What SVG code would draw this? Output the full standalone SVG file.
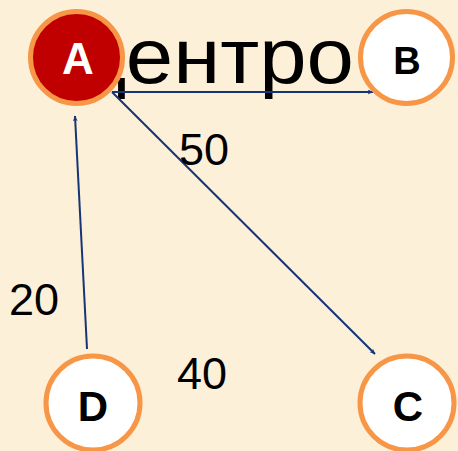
<svg xmlns="http://www.w3.org/2000/svg" width="458" height="451" viewBox="0 0 458 451">
  <defs>
    <marker id="arrow" viewBox="0 0 10 10" refX="9" refY="5" markerWidth="6" markerHeight="6" orient="auto" markerUnits="userSpaceOnUse">
      <path d="M0,1 L10,5 L0,9 L3,5 Z" fill="#173477"/>
    </marker>
  </defs>
  <style>
    .node { stroke: #f79646; stroke-width: 5; }
    .lbl { font-family: "Liberation Sans", Arial, sans-serif; font-weight: bold; text-anchor: middle; }
    .num { font-family: "Liberation Sans", Arial, sans-serif; font-size: 45px; fill: #000; }
    .edge { stroke: #173477; stroke-width: 2; fill: none; marker-end: url(#arrow); }
  </style>
  <rect width="458" height="451" fill="#fcf0d8"/>

  <!-- heading word partly covered by node A -->
  <text x="78" y="83" font-family="Liberation Sans, Arial, sans-serif" font-size="78" fill="#000" textLength="276" lengthAdjust="spacingAndGlyphs">центро</text>

  <g id="edges">
    <line class="edge" x1="112" y1="92" x2="373" y2="92"/>
    <line class="edge" x1="112" y1="92" x2="375" y2="354"/>
    <line class="edge" x1="87" y1="349" x2="75" y2="116"/>
  </g>

  <g id="labels">
    <text class="num" x="179" y="165">50</text>
    <text class="num" x="9" y="315">20</text>
    <text class="num" x="177" y="389">40</text>
  </g>

  <g id="A">
    <circle class="node" cx="76.5" cy="57.5" r="46" fill="#c00000"/>
    <text class="lbl" x="78" y="74" font-size="44" fill="#fff">A</text>
  </g>
  <g id="B">
    <circle class="node" cx="406.5" cy="57.5" r="46" fill="#fff"/>
    <text class="lbl" x="407" y="74" font-size="38" fill="#000">B</text>
  </g>
  <g id="D">
    <circle class="node" cx="93" cy="403" r="47" fill="#fff"/>
    <text class="lbl" x="93" y="421" font-size="42" fill="#000">D</text>
  </g>
  <g id="C">
    <circle class="node" cx="407" cy="403" r="47" fill="#fff"/>
    <text class="lbl" x="408" y="421" font-size="42" fill="#000">C</text>
  </g>
</svg>
